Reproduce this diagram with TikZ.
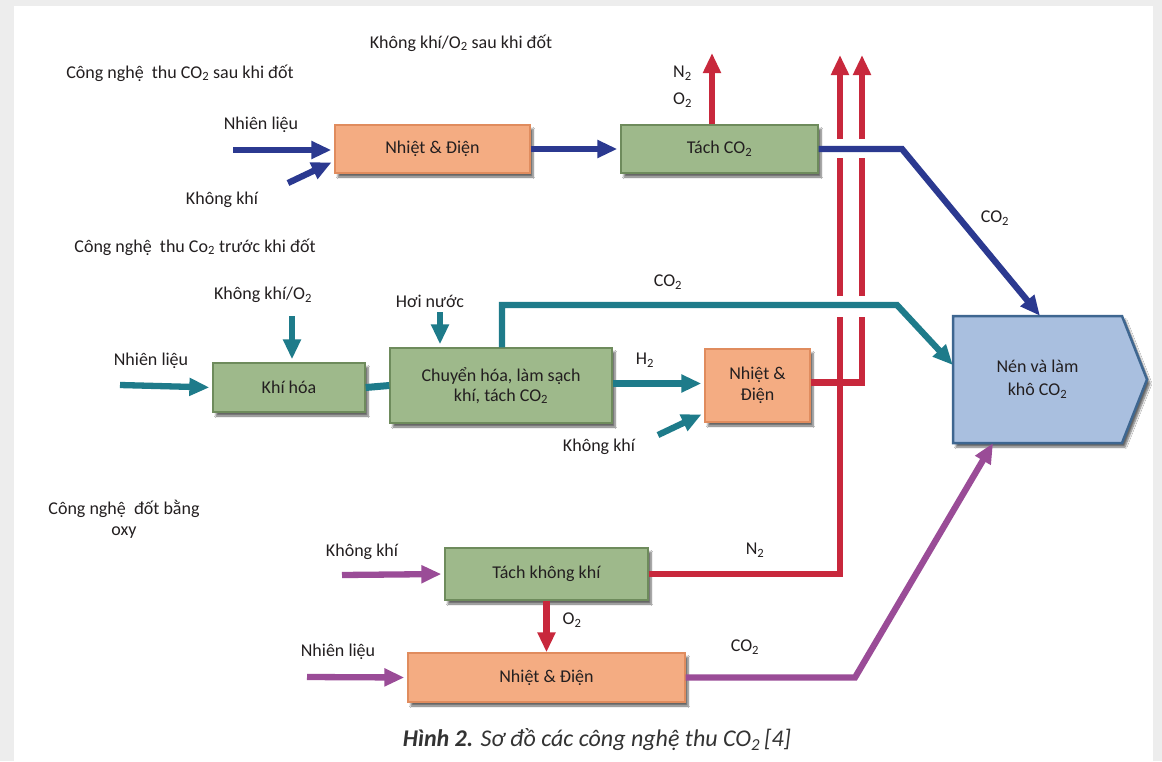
\documentclass[tikz,border=0pt]{standalone}
\usepackage{fontspec}
\setmainfont{Carlito}
\usetikzlibrary{arrows.meta,calc,shadows.blur}

\definecolor{flowblue}{HTML}{2B3990}
\definecolor{flowteal}{HTML}{1E7B8A}
\definecolor{flowred}{HTML}{C8283C}
\definecolor{flowpurple}{HTML}{9A4C97}
\definecolor{heatfill}{HTML}{F4AC82}
\definecolor{heatline}{HTML}{E08C5E}
\definecolor{sepfill}{HTML}{9EB98B}
\definecolor{sepline}{HTML}{6E8B5C}
\definecolor{compfill}{HTML}{A9BFDF}
\definecolor{compline}{HTML}{3E6690}
\definecolor{inktext}{HTML}{231F20}
\definecolor{captext}{HTML}{333333}
\definecolor{pagegray}{HTML}{EDEDED}

\newcommand{\sub}[1]{\textsubscript{#1}}

\begin{document}
\begin{tikzpicture}[x=1pt,y=-1pt,
  every node/.style={font=\fontsize{18}{21}\selectfont, text=inktext},
  lbl/.style={inner sep=0pt},
  boxshadow/.style={blur shadow={shadow xshift=3pt, shadow yshift=-4pt, shadow opacity=60, shadow blur steps=6}},
  box/.style={draw, line width=1.3pt, inner sep=0pt, align=center, boxshadow},
  heat/.style={box, fill=heatfill, draw=heatline},
  sepbox/.style={box, fill=sepfill, draw=sepline},
  tip/.style={-{Triangle[length=20pt,width=17pt]}},
  flow/.style={line width=6.3pt, tip, shorten >=3pt},
  pipe/.style={line width=6.3pt},
  blueflow/.style={flow, draw=flowblue},
  tealflow/.style={flow, draw=flowteal},
  redflow/.style={flow, draw=flowred},
  purpleflow/.style={flow, draw=flowpurple}
]
% page and frame
\fill[pagegray] (0,0) rectangle (1162,761);
\fill[white] (14,6) rectangle (1153,761);
\useasboundingbox (0,0) rectangle (1162,761);

% compressor block outline (pointer to the right)
\filldraw[fill=compfill, draw=compline, line width=2.5pt, line join=miter, boxshadow]
  (953,316) -- (1122,316) -- (1147,379.5) -- (1122,443) -- (953,443) -- cycle;
\node[inner sep=0pt, minimum width=169pt, minimum height=127pt, align=center,
  font=\fontsize{18}{23}\selectfont] (nen) at (1037.5,379.5) {Nén và làm\\khô CO\sub{2}};

% process blocks
\node[heat, minimum width=195pt, minimum height=48pt] (n1) at (432.5,149) {Nhiệt \& Điện};
\node[sepbox, minimum width=197pt, minimum height=48pt] (tach) at (719.5,149) {Tách CO\sub{2}};
\node[sepbox, minimum width=152pt, minimum height=49pt] (khihoa) at (289,387.5) {Khí hóa};
\node[sepbox, minimum width=222pt, minimum height=75pt, font=\fontsize{18}{20}\selectfont] (chuyen) at (501,385.5) {Chuyển hóa, làm sạch\\khí, tách CO\sub{2}};
\node[heat, minimum width=105pt, minimum height=73pt] (n2) at (757.5,385.5) {Nhiệt \&\\Điện};
\node[sepbox, minimum width=203pt, minimum height=52pt] (tachkk) at (546.5,574) {Tách không khí};
\node[heat, minimum width=277pt, minimum height=49pt] (n3) at (546.5,677.5) {Nhiệt \& Điện};

% free ends of the feed lines
\coordinate (fuel1) at (233,150);
\coordinate (air1) at (288,183);
\coordinate (ventTop) at (712,53);
\coordinate (fuel2) at (120,385);
\coordinate (airO2) at (292,316);
\coordinate (steam) at (440,312);
\coordinate (air2) at (658,435);
\coordinate (air3) at (342,575);
\coordinate (fuel3) at (307,677);

% --- post-combustion (blue) ---
\draw[blueflow] (fuel1) -- (fuel1 -| n1.west);
\draw[blueflow] (air1) -- ($(n1.west)+(0,12)$);
\draw[blueflow] (n1.east) -- (tach.west);
\draw[pipe, draw=flowred, tip] ($(tach.north)+(-7.5,0)$) -- (ventTop);

% --- pre-combustion (teal) ---
\draw[tealflow] (fuel2) -- (khihoa.west);
\draw[tealflow] (airO2) -- (airO2 |- khihoa.north);
\draw[tealflow] (steam) -- (steam |- chuyen.north);
\draw[pipe, draw=flowteal, line width=7pt] (khihoa.east) -- (chuyen.west);
\draw[tealflow] ($(chuyen.east)+(0,-2)$) -- ($(n2.west)+(0,-2)$);
\draw[tealflow] (air2) -- ($(n2.west)+(0,27.5)$);

% --- oxy-fuel (purple) ---
\draw[purpleflow] (air3) -- (tachkk.west);
\draw[purpleflow] (fuel3) -- (n3.west);
\draw[redflow, shorten >=0pt] (tachkk.south) -- (n3.north);

% --- vent stacks (red), broken where they pass under the CO2 lines ---
\draw[pipe, draw=flowred, tip]
  (tachkk.east) -| (840,317) (840,296) -- (840,158) (840,139) -- (840,55);
\draw[pipe, draw=flowred, tip]
  ($(n2.east)+(0,-3)$) -| (862,317) (862,296) -- (862,158) (862,139) -- (862,55);

% --- CO2 lines to the compressor ---
\draw[blueflow, shorten >=0pt] (tach.east) -- (902,149) -- ($(nen.north)+(2.5,0)$);
\draw[tealflow, shorten >=0pt] (chuyen.north -| 502,0) -- (502,305) -- (897,305) -- ($(nen.west)+(0,-14.5)$);
\draw[purpleflow, shorten >=0pt] (n3.east) -- (855,677.5) -- ($(nen.south)+(-44.5,0)$);

% labels
\node[lbl] (tTop) at (461,43) {Không khí/O\sub{2} sau khi đốt};
\node[lbl] (tPost) at (180,73) {Công nghệ\ \ thu CO\sub{2} sau khi đốt};
\node[lbl] (tFuel1) at (261,125) {Nhiên liệu};
\node[lbl] (tAir1) at (222,200) {Không khí};
\node[lbl, anchor=west] (tN2a) at (673,73) {N\sub{2}};
\node[lbl, anchor=west] (tO2a) at (673,100) {O\sub{2}};
\node[lbl] (tCO2a) at (995,218) {CO\sub{2}};
\node[lbl] (tPre) at (195,247) {Công nghệ\ \ thu Co\sub{2} trước khi đốt};
\node[lbl] (tAirO2) at (263,295) {Không khí/O\sub{2}};
\node[lbl] (tSteam) at (430,301) {Hơi nước};
\node[lbl] (tCO2b) at (668,282) {CO\sub{2}};
\node[lbl] (tFuel2) at (151,361) {Nhiên liệu};
\node[lbl] (tH2) at (645,360) {H\sub{2}};
\node[lbl] (tAir2) at (599,447) {Không khí};
\node[lbl, align=center] (tOxy) at (124,519) {Công nghệ\ \ đốt bằng\\oxy};
\node[lbl] (tAir3) at (362,552) {Không khí};
\node[lbl] (tN2b) at (755,550) {N\sub{2}};
\node[lbl] (tO2b) at (572,620) {O\sub{2}};
\node[lbl] (tFuel3) at (338,652) {Nhiên liệu};
\node[lbl] (tCO2c) at (745,647) {CO\sub{2}};

% caption
\node[lbl, text=captext, font=\fontsize{24}{27}\selectfont\itshape] (caption) at (597,740)
  {\textbf{Hình 2.} Sơ đồ các công nghệ thu CO\sub{2}\,[4]};
\end{tikzpicture}
\end{document}
